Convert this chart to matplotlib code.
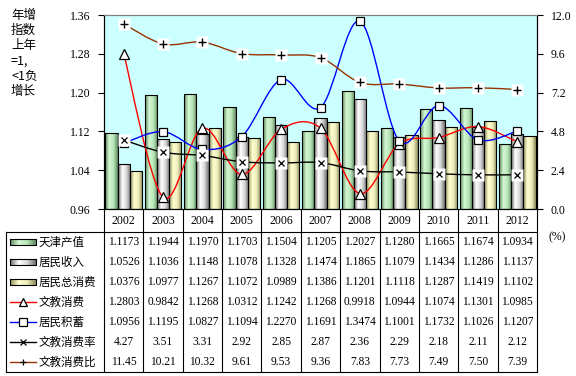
import numpy as np
import matplotlib.pyplot as plt
from matplotlib.path import Path
from matplotlib.patches import PathPatch
from matplotlib.colors import LinearSegmentedColormap
from matplotlib.transforms import blended_transform_factory

plt.rcParams['font.family'] = ['Noto Sans CJK SC', 'DejaVu Sans']
SERIF = ['Liberation Serif', 'DejaVu Serif']

# ---- data ----
years = ['2002', '2003', '2004', '2005', '2006', '2007', '2008', '2009', '2010', '2011', '2012']
tianjin_output = [1.1173, 1.1944, 1.1970, 1.1703, 1.1504, 1.1205, 1.2027, 1.1280, 1.1665, 1.1674, 1.0934]
income = [1.0526, 1.1036, 1.1148, 1.1078, 1.1328, 1.1474, 1.1865, 1.1079, 1.1434, 1.1286, 1.1137]
total_consumption = [1.0376, 1.0977, 1.1267, 1.1072, 1.0989, 1.1386, 1.1201, 1.1118, 1.1287, 1.1419, 1.1102]
culture_spend = [1.2803, 0.9842, 1.1268, 1.0312, 1.1242, 1.1268, 0.9918, 1.0944, 1.1074, 1.1301, 1.0985]
savings = [1.0956, 1.1195, 1.0827, 1.1094, 1.2270, 1.1691, 1.3474, 1.1001, 1.1732, 1.1026, 1.1207]
culture_rate = [4.27, 3.51, 3.31, 2.92, 2.85, 2.87, 2.36, 2.29, 2.18, 2.11, 2.12]
culture_ratio = [11.45, 10.21, 10.32, 9.61, 9.53, 9.36, 7.83, 7.73, 7.49, 7.50, 7.39]

row_names = ['天津产值', '居民收入', '居民总消费', '文教消费', '居民积蓄', '文教消费率', '文教消费比']
row_values = [tianjin_output, income, total_consumption, culture_spend, savings, culture_rate, culture_ratio]
row_fmt = ['{:.4f}'] * 5 + ['{:.2f}'] * 2

# cylinder-like gradients for the bars
green_cm = LinearSegmentedColormap.from_list('g', ['#5f8a5f', '#d4f7d4', '#b8e6b8', '#5f8a5f'])
gray_cm = LinearSegmentedColormap.from_list('w', ['#707070', '#ffffff', '#d8d8d8', '#707070'])
yellow_cm = LinearSegmentedColormap.from_list('y', ['#8c8c5c', '#ffffd0', '#eeeebb', '#8c8c5c'])
grad = np.linspace(0, 1, 64).reshape(1, -1)


def smooth_line(ax, xs, ys, color, zorder=4):
    # Excel-style smoothed line: cubic Bezier segments through every point
    pts = np.column_stack([xs, ys]).astype(float)
    n = len(pts)
    verts = [pts[0]]
    codes = [Path.MOVETO]
    for i in range(n - 1):
        p0 = pts[max(i - 1, 0)]
        p1 = pts[i]
        p2 = pts[i + 1]
        p3 = pts[min(i + 2, n - 1)]
        verts += [p1 + (p2 - p0) / 6, p2 - (p3 - p1) / 6, p2]
        codes += [Path.CURVE4] * 3
    ax.add_patch(PathPatch(Path(verts, codes), facecolor='none', edgecolor=color,
                           lw=1.0, zorder=zorder))


fig = plt.figure(figsize=(5.76, 3.76), dpi=100)
ax = fig.add_axes([104 / 576, 1 - 209 / 376, 433 / 576, 194 / 376])
ax.set_facecolor('#ccffff')

x = np.arange(len(years))
w = 0.31
base = 0.96
for off, vals, cm in [(-w, tianjin_output, green_cm), (0, income, gray_cm),
                      (w, total_consumption, yellow_cm)]:
    bars = ax.bar(x + off, np.array(vals) - base, w, bottom=base,
                  facecolor='none', edgecolor='black', lw=0.8, zorder=3)
    for b in bars:
        im = ax.imshow(grad, cmap=cm, aspect='auto', zorder=2,
                       extent=[b.get_x(), b.get_x() + b.get_width(), base, base + b.get_height()])
        im.set_clip_path(b)

smooth_line(ax, x, culture_spend, 'red')
ax.plot(x, culture_spend, ls='none', marker='^', ms=6.5, mfc='white', mec='black', mew=0.9, zorder=5)
smooth_line(ax, x, savings, 'blue')
ax.plot(x, savings, ls='none', marker='s', ms=5.5, mfc='white', mec='black', mew=0.9, zorder=5)

ax.set_xlim(-0.5, len(years) - 0.5)
ax.set_ylim(0.96, 1.36)
ax.set_yticks(np.arange(0.96, 1.361, 0.08))
ax.yaxis.set_major_formatter(plt.FormatStrFormatter('%.2f'))
ax.set_xticks([])
ax.tick_params(axis='y', direction='out', length=4, width=0.8, pad=6, labelsize=8.5)
for lab in ax.get_yticklabels():
    lab.set_family(SERIF)
ax.spines['top'].set_color('#808080')

ax2 = ax.twinx()
smooth_line(ax2, x, culture_rate, 'black')
ax2.plot(x, culture_rate, ls='none', marker='s', ms=9, mfc='white', mec='none', zorder=5)
ax2.plot(x, culture_rate, ls='none', marker='x', ms=5, mec='black', mew=0.9, zorder=6)
smooth_line(ax2, x, culture_ratio, '#993300')
ax2.plot(x, culture_ratio, ls='none', marker='s', ms=9, mfc='white', mec='none', zorder=5)
ax2.plot(x, culture_ratio, ls='none', marker='+', ms=6, mec='black', mew=1.0, zorder=6)
ax2.set_ylim(0, 12)
ax2.set_yticks(np.arange(0, 12.01, 2.4))
ax2.yaxis.set_major_formatter(plt.FormatStrFormatter('%.1f'))
ax2.tick_params(axis='y', direction='out', length=4, width=0.8, pad=6, labelsize=8.5)
for lab in ax2.get_yticklabels():
    lab.set_family(SERIF)
ax2.spines['top'].set_color('#808080')
ax2.set_xlim(ax.get_xlim())

# ---- data table below the chart ----
tax = fig.add_axes([0, 0, 1, 1], zorder=-1)
tax.set_xlim(0, 576)
tax.set_ylim(376, 0)
tax.axis('off')
tr = blended_transform_factory(ax.transData, tax.transData)

top_y, head_y, bot_y, row_h = 209, 232, 372, 20
for i in range(len(years) + 1):
    tax.plot([i - 0.5, i - 0.5], [top_y, bot_y], color='black', lw=0.8, transform=tr)
for i, yr in enumerate(years):
    tax.text(i, 221, yr, transform=tr, ha='center', va='center', fontsize=8.5, family=SERIF)
tax.plot([6, 537], [head_y, head_y], color='black', lw=0.8)
tax.plot([6, 537], [bot_y, bot_y], color='black', lw=0.8)
tax.plot([6, 6], [head_y, bot_y], color='black', lw=0.8)

keys = [('bar', green_cm), ('bar', gray_cm), ('bar', yellow_cm),
        ('line', 'red', '^'), ('line', 'blue', 's'), ('line', 'black', 'x'), ('line', '#993300', '+')]
for r, (name, vals, fmt, key) in enumerate(zip(row_names, row_values, row_fmt, keys)):
    cy = head_y + 10 + r * row_h
    if key[0] == 'bar':
        tax.imshow(grad, cmap=key[1], aspect='auto', extent=[10, 36, cy + 3, cy - 3], zorder=2)
        tax.plot([10, 36, 36, 10, 10], [cy - 3, cy - 3, cy + 3, cy + 3, cy - 3], color='black', lw=0.8)
    else:
        tax.plot([10, 36], [cy, cy], color=key[1], lw=1.0)
        if key[2] in ('^', 's'):
            tax.plot([23], [cy], marker=key[2], ms=5.5, mfc='white', mec='black', mew=0.9)
        else:
            tax.plot([23], [cy], marker=key[2], ms=4, mec='black', mew=0.9)
    tax.text(39, cy, name, ha='left', va='center', fontsize=8.3)
    for i, v in enumerate(vals):
        tax.text(i, cy, fmt.format(v), transform=tr, ha='center', va='center',
                 fontsize=8.3, family=SERIF)
tax.set_xlim(0, 576)
tax.set_ylim(376, 0)

fig.text(557 / 576, 1 - 237 / 376, '(%)', ha='center', va='center', fontsize=8.5, family=SERIF)
fig.text(11 / 576, 1 - 9 / 376, '年增\n指数\n上年\n=1,\n<1负\n增长', ha='left', va='top',
         fontsize=9, linespacing=1.22)

fig.savefig('out.png', dpi=100)
